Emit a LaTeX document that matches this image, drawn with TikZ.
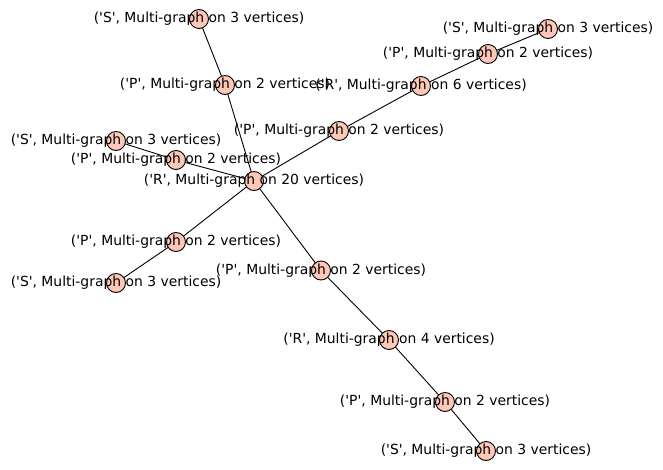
\documentclass[tikz,border=0pt]{standalone}
\usepackage{fontspec}
\setmainfont{DejaVu Sans}
\definecolor{vfill}{HTML}{FEC7B8}
\newcommand{\q}{\textquotesingle}
\tikzset{
  vtx/.style={circle, draw=black, fill=vfill, line width=0.9pt, minimum size=19pt, inner sep=0pt},
  vlabel/.style={inner sep=0pt, font=\fontsize{13.9pt}{16pt}\selectfont, text=black},
  edge/.style={line width=0.9pt, black}
}
\begin{document}
\begin{tikzpicture}[x=1pt,y=-1pt]
\useasboundingbox (0,0) rectangle (663,470);
% vertex positions
\foreach \n/\x/\y in {s1/199/19, p1/225/85, r20/254/181, s2/116/141, p2/176/160,
  p3/176/242, s3/116/283, p4/321/270.5, r4/389/340, p5/445/402, s4/486/451,
  p6/339/131, r6/421/86, p7/488/54, s5/548/29}
  \coordinate (c-\n) at (\x,\y);
% edges
\foreach \a/\b in {s1/p1, p1/r20, s2/p2, p2/r20, r20/p3, p3/s3, r20/p4, p4/r4,
  r4/p5, p5/s4, r20/p6, p6/r6, r6/p7, p7/s5}
  \draw[edge] (c-\a) -- (c-\b);
% vertices
\foreach \n in {s1,p1,r20,s2,p2,p3,s3,p4,r4,p5,s4,p6,r6,p7,s5}
  \node[vtx] (\n) at (c-\n) {};
% labels
\foreach \n/\t/\k in {s1/S/3, p1/P/2, s2/S/3, p2/P/2, p3/P/2, s3/S/3, p4/P/2,
  r4/R/4, p5/P/2, s4/S/3, p6/P/2, r6/R/6, p7/P/2, s5/S/3, r20/R/20}
  \node[vlabel] (l-\n) at (c-\n) {(\q\t\q, Multi-graph on \k\ vertices)};
\end{tikzpicture}
\end{document}
